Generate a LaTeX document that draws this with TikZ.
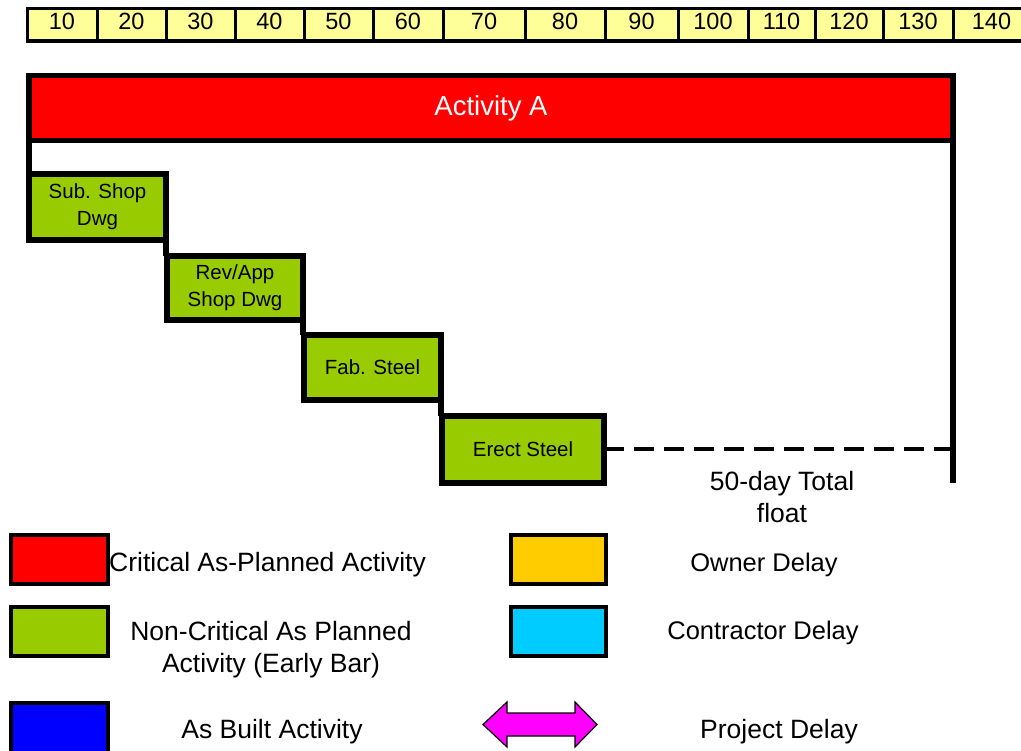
\documentclass[tikz,border=0pt]{standalone}
\usepackage{fontspec}
\setmainfont{Liberation Sans}
\definecolor{critred}{HTML}{FF0000}
\definecolor{ncgreen}{HTML}{99CC00}
\definecolor{scaleyellow}{HTML}{FFFF99}
\definecolor{ownery}{HTML}{FFCC00}
\definecolor{contrc}{HTML}{00CCFF}
\definecolor{asblue}{HTML}{0000FF}
\definecolor{projm}{HTML}{FF00FF}
\begin{document}
\begin{tikzpicture}[x=1pt,y=-1pt,
  bar/.style={draw=black, line width=5.5pt, inner sep=0pt, outer sep=0pt},
  ncbar/.style={bar, fill=ncgreen, align=center, font=\fontsize{20.5}{27}\selectfont},
  link/.style={line width=5.5pt},
  cell/.style={draw=black, line width=3pt, fill=scaleyellow, inner sep=0pt, outer sep=0pt, minimum height=33pt, text height=17pt, text depth=7pt, font=\fontsize{23.5}{26}\selectfont, anchor=north west},
  legbox/.style={draw=black, line width=4pt, minimum width=97pt, minimum height=49pt, inner sep=0pt},
  legtext/.style={font=\fontsize{26.5}{32}\selectfont, align=center, inner sep=0pt},
  legtextr/.style={legtext, font=\fontsize{25.5}{32}\selectfont}
]
\clip (0,0) rectangle (1021,751);
\useasboundingbox (0,0) rectangle (1021,751);

% time scale
\foreach \l/\r/\t [count=\i] in {27/97/10,97/166/20,166/235/30,235/304/40,304/373/50,373/443/60,443/525/70,525/605/80,605/678/90,678/748/100,748/815/110,815/883/120,883/953/130,953/1030/140}{
  \pgfmathsetmacro{\w}{\r-\l}
  \node[cell, minimum width=\w pt] (s\i) at (\l,8.5) {\t};
}
\draw[line width=4pt] (s1.south west) -- (s14.south east);

% Activity A
\node[bar, fill=critred, minimum width=924pt, minimum height=65pt, text=white,
  font=\fontsize{27.5}{30}\selectfont] (actA) at (491,108) {Activity A};

% non-critical bars
\node[ncbar, minimum width=137pt, minimum height=66pt] (sub) at (97.5,207) {Sub. Shop\\Dwg};
\node[ncbar, minimum width=136pt, minimum height=64pt] (rev) at (235,288) {Rev/App\\Shop Dwg};
\node[ncbar, minimum width=137pt, minimum height=65pt] (fab) at (372.5,367.5) {Fab. Steel};
\node[ncbar, minimum width=162pt, minimum height=67pt] (erect) at (523,449.5) {Erect Steel};

% links
\draw[link] (actA.south west) -- (sub.north west);
\draw[link] (sub.south east) -- (sub.south east |- rev.north);
\draw[link] (rev.south east) -- (rev.south east |- fab.north);
\draw[link] (fab.south east) -- (fab.south east |- erect.north);
\coordinate (fend) at (953,483);
\draw[link] (actA.south east) -- (fend);
\draw[line width=4pt, dash pattern=on 20pt off 10pt] (erect.east) -- (erect.east -| fend);

\node[legtext] (float) at (782,497) {50-day Total\\float};

% legend
\node[legbox, fill=critred] (lcrit) at (59,559.5) {};
\node[legtext, anchor=west] (tcrit) at (109,565) {Critical As-Planned Activity};
\node[legbox, fill=ncgreen] (lnc) at (59,631.5) {};
\node[legtext] (tnc) at (271,650) {Non-Critical As Planned\\Activity (Early Bar)};
\node[legbox, fill=asblue, minimum height=60pt] (lab) at (59,733) {};
\node[legtext] (tab) at (272,732) {As Built Activity};

\node[legbox, fill=ownery, minimum width=95pt] (lown) at (558.5,559.5) {};
\node[legtextr] (town) at (764,565) {Owner Delay};
\node[legbox, fill=contrc, minimum width=95pt] (lcon) at (558.5,631.5) {};
\node[legtextr] (tcon) at (763,633) {Contractor Delay};

\draw[fill=projm, line width=1.2pt] (483,724.5) -- (507,702) -- (507,713) -- (575,713) -- (575,702)
  -- (597,724.5) -- (575,747) -- (575,736) -- (507,736) -- (507,747) -- cycle;
\node[legtext] (tproj) at (779,732) {Project Delay};
\end{tikzpicture}
\end{document}
